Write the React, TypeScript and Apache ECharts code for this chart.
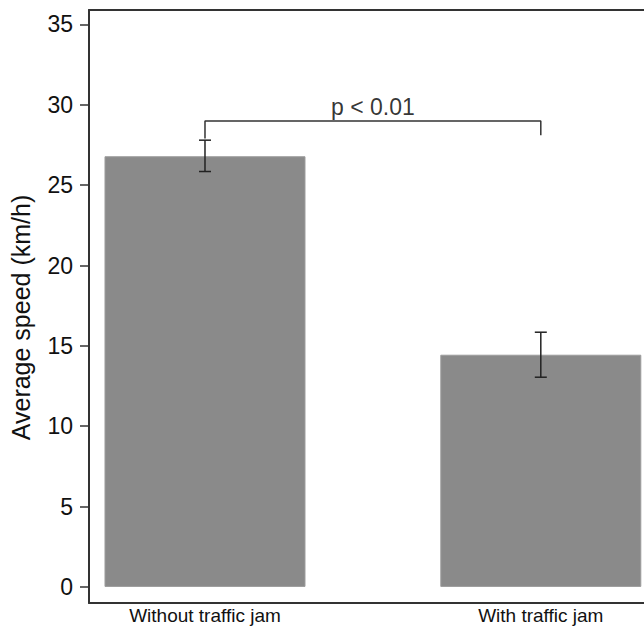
import React, { useEffect, useRef } from "react";
import * as echarts from "echarts";

const categories = ["Without traffic jam", "With traffic jam"];
const categoryPositions = [1, 2];
const meanSpeed = [26.8, 14.45];
const errorLow = [25.85, 13.05];
const errorHigh = [27.8, 15.85];
const yTicks = [0, 5, 10, 15, 20, 25, 30, 35];
const bracketX = [1, 1, 2, 2];
const bracketY = [27.9, 29, 29, 28.1];
const pValueLabel = "p < 0.01";

const FONT = "'Liberation Sans', Arial, Helvetica, sans-serif";
const AXIS_COLOR = "#333333";

export default function App() {
  const ref = useRef<HTMLDivElement>(null);

  useEffect(() => {
    if (!ref.current) return;
    const chart = echarts.init(ref.current, undefined, { renderer: "svg" });

    const xMin = 0.6546;
    const xMax = 2.3073;

    const option: any = {
      animation: false,
      backgroundColor: "#ffffff",
      grid: { left: 89, right: 0, top: 10, bottom: 24, containLabel: false },
      xAxis: [
        {
          type: "value",
          min: xMin,
          max: xMax,
          position: "bottom",
          axisLine: { show: true, onZero: false, lineStyle: { color: AXIS_COLOR, width: 2 } },
          axisTick: { show: false },
          splitLine: { show: false },
          axisLabel: {
            customValues: categoryPositions,
            formatter: (v: number) => categories[Math.round(v) - 1] ?? "",
            color: "#111111",
            fontFamily: FONT,
            fontSize: 19,
            margin: 3,
          },
        },
        {
          type: "value",
          min: xMin,
          max: xMax,
          position: "top",
          axisLine: { show: true, onZero: false, lineStyle: { color: AXIS_COLOR, width: 2 } },
          axisTick: { show: false },
          splitLine: { show: false },
          axisLabel: { show: false },
        },
      ],
      yAxis: {
        type: "value",
        min: -1.0,
        max: 35.9,
        name: "Average speed (km/h)",
        nameLocation: "middle",
        nameGap: 56,
        nameTextStyle: {
          color: "#111111",
          fontFamily: FONT,
          fontSize: 25,
          padding: [0, 22, 0, 0],
        },
        axisLine: { show: true, onZero: false, lineStyle: { color: AXIS_COLOR, width: 2 } },
        axisTick: {
          show: true,
          length: 9,
          customValues: yTicks,
          lineStyle: { color: AXIS_COLOR, width: 1.5 },
        },
        splitLine: { show: false },
        axisLabel: {
          customValues: yTicks,
          color: "#111111",
          fontFamily: FONT,
          fontSize: 23,
          margin: 16,
        },
      },
      series: [
        {
          type: "bar",
          xAxisIndex: 0,
          barWidth: 201,
          data: categoryPositions.map((x, i) => [x, meanSpeed[i]]),
          itemStyle: { color: "#8a8a8a", borderColor: "#9c9c9c", borderWidth: 1 },
          z: 2,
        },
        {
          type: "custom",
          xAxisIndex: 0,
          data: categoryPositions.map((x, i) => [x, errorLow[i], errorHigh[i]]),
          renderItem: (params: any, api: any) => {
            const x = api.value(0);
            const lo = api.coord([x, api.value(1)]);
            const hi = api.coord([x, api.value(2)]);
            const half = 6;
            const style = { stroke: "#222222", lineWidth: 1.5 };
            return {
              type: "group",
              children: [
                { type: "line", shape: { x1: lo[0], y1: lo[1], x2: hi[0], y2: hi[1] }, style },
                { type: "line", shape: { x1: hi[0] - half, y1: hi[1], x2: hi[0] + half, y2: hi[1] }, style },
                { type: "line", shape: { x1: lo[0] - half, y1: lo[1], x2: lo[0] + half, y2: lo[1] }, style },
              ],
            };
          },
          z: 3,
        },
        {
          type: "line",
          xAxisIndex: 0,
          data: bracketX.map((x, i) => [x, bracketY[i]]),
          symbol: "none",
          lineStyle: { color: "#333333", width: 1.5 },
          z: 3,
        },
        {
          type: "scatter",
          xAxisIndex: 0,
          data: [[(bracketX[0] + bracketX[3]) / 2, bracketY[1]]],
          symbolSize: 1,
          itemStyle: { color: "rgba(0,0,0,0)" },
          label: {
            show: true,
            position: "top",
            distance: 2,
            formatter: pValueLabel,
            color: "#000000",
            fontFamily: FONT,
            fontSize: 23,
          },
          emphasis: { disabled: true },
          z: 4,
        },
      ],
    };

    chart.setOption(option);
    return () => chart.dispose();
  }, []);

  return (
    <div
      ref={ref}
      style={{ position: "fixed", left: 0, top: 0, width: 644, height: 627, background: "#fff" }}
    />
  );
}
